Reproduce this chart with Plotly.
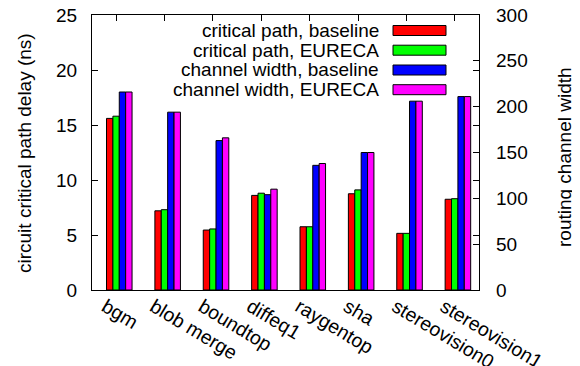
import plotly.graph_objects as go

categories = ["bgm", "blob merge", "boundtop", "diffeq1", "raygentop", "sha",
              "stereovision0", "stereovision1"]
series_names = ["critical path, baseline", "critical path, EURECA",
                "channel width, baseline", "channel width, EURECA"]
crit_baseline = [15.6, 7.2, 5.45, 8.6, 5.75, 8.75, 5.15, 8.25]
crit_eureca = [15.8, 7.3, 5.55, 8.8, 5.75, 9.1, 5.15, 8.3]
chw_baseline = [216, 194, 163, 104, 136, 150, 206, 211]
chw_eureca = [216, 194, 166, 110, 138, 150, 206, 211]
left_ticks = [0, 5, 10, 15, 20, 25]
right_ticks = [0, 50, 100, 150, 200, 250, 300]

colors = ["#ff0000", "#00ff00", "#0000ff", "#ff00ff"]
FONT = "Liberation Sans, Arial, Helvetica, sans-serif"
FS = 19

# page has an 8px body margin; the figure is sized so that the
# plot area lands at x 92..479, y 15..290 of the 580x366 window
OFF = 8
W, H = 580 - OFF, 366 - OFF
PL, PR, PT, PB = 92, 479, 15, 290          # plot area in window pixels
L, T = PL - OFF, PT - OFF
R, B = W - L - (PR - PL), H - T - (PB - PT)
pw, ph = PR - PL, PB - PT

xpos = list(range(len(categories)))
bw = 0.132
offsets = [-0.2, -0.2 + bw, -0.2 + 2 * bw, -0.2 + 3 * bw]
data = [crit_baseline, crit_eureca, chw_baseline, chw_eureca]
axes = ["y", "y", "y2", "y2"]

fig = go.Figure()
for name, vals, col, off, ax in zip(series_names, data, colors, offsets, axes):
    fig.add_trace(go.Bar(
        x=xpos, y=vals, name=name, yaxis=ax, width=bw, offset=off,
        marker=dict(color=col, line=dict(color="black", width=1)),
        showlegend=False,
    ))

def px_x(p):
    return (p - PL) / pw

def px_y(p):
    return (PB - p) / ph

row_y = [30.5, 50.2, 70, 89.7]
for name, col, yy in zip(series_names, colors, row_y):
    fig.add_annotation(
        x=px_x(381), y=px_y(yy), xref="paper", yref="paper",
        text=name, showarrow=False, xanchor="right", yanchor="middle",
        font=dict(family=FONT, size=FS, color="black"),
    )
    fig.add_shape(
        type="rect", xref="paper", yref="paper",
        x0=px_x(393), x1=px_x(446), y0=px_y(yy - 5), y1=px_y(yy + 5),
        fillcolor=col, line=dict(color="black", width=1),
    )

fig.add_annotation(
    x=px_x(24), y=px_y(153), xref="paper", yref="paper",
    text="circuit critical path delay (ns)", showarrow=False, textangle=-90,
    xanchor="center", yanchor="middle",
    font=dict(family=FONT, size=FS, color="black"),
)
fig.add_annotation(
    x=px_x(564), y=px_y(157), xref="paper", yref="paper",
    text="routing channel width", showarrow=False, textangle=-90,
    xanchor="center", yanchor="middle",
    font=dict(family=FONT, size=FS, color="black"),
)

fig.update_layout(
    width=W, height=H, autosize=False,
    margin=dict(l=L, r=R, t=T, b=B, pad=0, autoexpand=False),
    paper_bgcolor="white", plot_bgcolor="white",
    barmode="overlay", showlegend=False,
    font=dict(family=FONT, size=FS, color="black"),
    xaxis=dict(
        range=[-0.5, 7.5], tickmode="array", tickvals=xpos, ticktext=categories,
        tickangle=31, ticks="inside", ticklen=6, tickcolor="black",
        showline=True, linecolor="black", linewidth=1, mirror="ticks",
        showgrid=False, zeroline=False, layer="below traces", automargin=False,
        ticklabeloverflow="allow", ticklabelshift=-11, ticklabelstandoff=-3,
        tickfont=dict(family=FONT, size=19.5, color="black"),
    ),
    yaxis=dict(
        range=[0, 25], tickmode="array", tickvals=left_ticks,
        ticks="inside", ticklen=6, tickcolor="black",
        showline=True, linecolor="black", linewidth=1, mirror="ticks",
        showgrid=False, zeroline=False, ticklabelstandoff=10, automargin=False,
        ticklabeloverflow="allow",
        tickfont=dict(family=FONT, size=FS, color="black"),
    ),
    yaxis2=dict(
        range=[0, 300], tickmode="array", tickvals=right_ticks,
        overlaying="y", side="right",
        ticks="inside", ticklen=6, tickcolor="black",
        showline=False, showgrid=False, zeroline=False, ticklabelstandoff=16,
        automargin=False, ticklabeloverflow="allow",
        tickfont=dict(family=FONT, size=FS, color="black"),
    ),
)

fig.write_html("out.html")
